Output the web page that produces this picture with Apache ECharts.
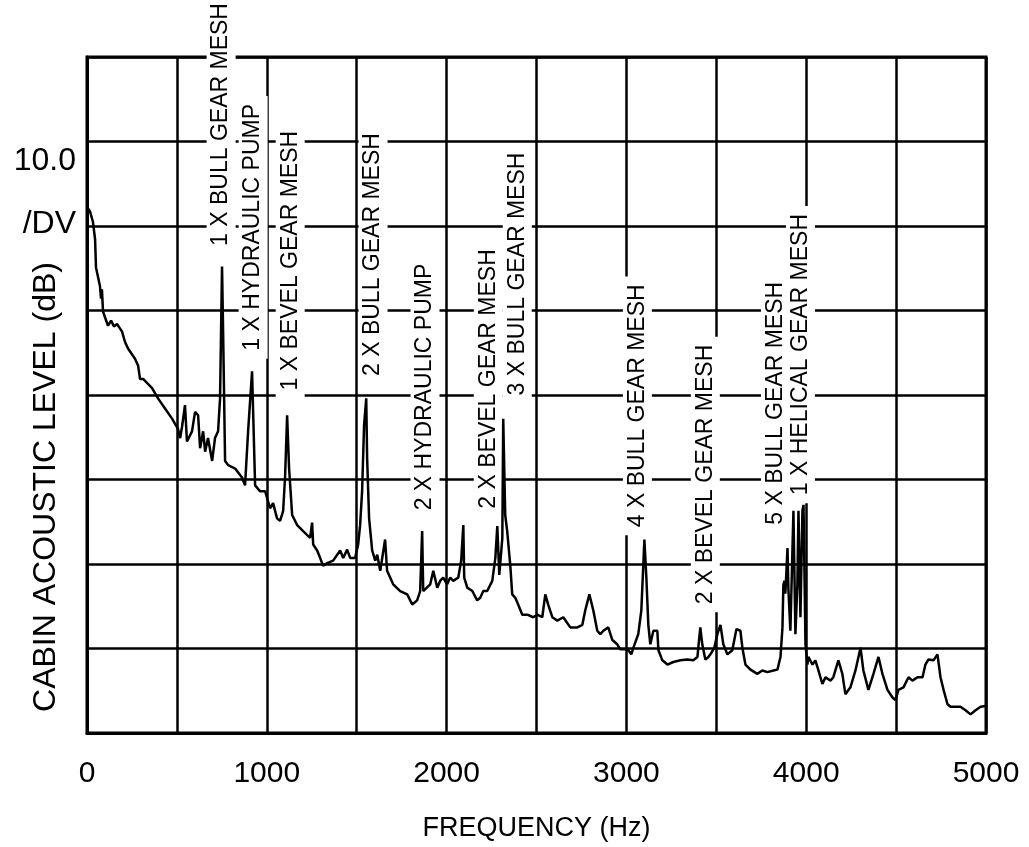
<!DOCTYPE html>
<html>
<head>
<meta charset="utf-8">
<script src="https://cdn.jsdelivr.net/npm/echarts@6/dist/echarts.min.js"></script>
<style>
  html, body { margin: 0; padding: 0; background: #fff; }
  #main { width: 1029px; height: 847px; }
</style>
</head>
<body>
<div id="main"></div>
<script>
// spectrum: frequency (Hz) and level (dB, 10 dB per division)
var freqHz = [0,17,33,45,50,61,72,78,83,89,100,117,134,150,167,195,211,228,267,284,295,312,362,395,434,473,506,518,529,545,556,584,601,618,629,646,657,673,696,712,729,740,751,757,768,785,824,863,879,896,918,935,963,991,
  1018,1035,1057,1074,1091,1102,1113,1124,1141,1169,1202,1241,1252,1258,1280,1297,1313,1336,1369,1408,1425,1447,1464,1491,1508,1519,1530,1541,1553,1558,1569,1586,1603,1614,1631,1658,1669,1686,1703,1742,1781,1809,1836,1853,1864,1870,1909,1926,1948,1964,1981,
  2003,2020,2037,2065,2081,2093,2098,2115,2143,2170,2187,2204,2226,2254,2271,2282,2293,2310,2315,2326,2337,2354,2365,2382,2398,2421,2449,2482,2504,2532,2549,2565,2588,2616,2649,2688,2727,2755,2771,2794,2816,2838,2855,2872,2899,2922,2949,2966,2994,
  3011,3027,3039,3066,3083,3094,3100,3111,3122,3133,3150,3172,3178,3200,3228,3261,3300,3339,3372,3395,3411,3422,3439,3456,3473,3489,3506,3523,3539,3562,3589,3612,3634,3645,3662,3690,3728,3756,3784,3818,3840,3857,3868,3873,3879,3884,3896,3901,3912,3929,3940,3951,3957,3968,3979,3985,3996,
  4007,4012,4035,4051,4068,4090,4107,4135,4151,4179,4201,4218,4246,4274,4302,4318,4346,4374,4402,4424,4452,4480,4496,4513,4541,4569,4591,4619,4647,4663,4680,4708,4730,4747,4764,4786,4803,4830,4858,4886,4914,4942,4970,4997];
var levelDb = [62.3,61.7,60.5,58.4,55.1,54.9,52.9,51.4,52.5,49.9,49.2,48.2,48.8,48.1,48.4,47.5,46.3,45.5,44.3,43.5,41.9,41.9,40.8,39.6,38.4,37.2,36.0,34.9,36.3,38.8,34.5,35.7,38.0,37.6,33.7,35.7,33.3,34.9,32.2,34.9,35.7,39.6,55.2,47.5,32.2,31.7,31.3,30.2,29.3,35.7,42.8,29.3,28.6,28.6,
  26.6,27.2,25.4,25.1,26.3,30.5,37.6,31.3,25.8,24.6,23.9,23.1,24.9,22.3,21.6,20.7,19.8,20.1,20.4,21.6,20.7,21.7,20.7,20.7,22.3,24.6,28.6,36.4,39.6,32.5,25.4,21.6,20.4,21.1,19.2,22.9,19.2,18.4,17.6,16.8,16.4,15.2,15.7,16.8,23.9,16.8,17.6,19.2,17.2,18.0,18.4,
  17.6,18.4,18.0,18.4,20.4,24.6,18.4,17.2,16.8,15.7,16.0,16.8,16.8,18.0,20.7,24.5,18.7,23.1,37.2,25.8,23.9,19.9,16.4,16.0,15.2,14.0,14.0,13.7,14.0,13.7,16.4,15.2,13.7,13.3,13.7,12.5,12.5,12.8,14.5,16.4,14.5,12.1,11.7,12.1,12.5,11.0,10.5,9.9,9.9,
  9.8,9.3,10.1,11.7,14.5,19.9,22.9,18.4,12.8,10.5,12.1,12.1,9.8,8.6,8.1,8.4,8.6,8.7,8.6,9.0,12.5,10.5,8.7,9.0,9.5,10.1,11.7,12.8,10.5,9.3,9.8,12.3,12.1,10.1,8.1,7.5,7.0,7.4,7.2,7.4,7.5,9.0,12.5,17.5,18.0,16.5,21.9,17.0,12.1,26.3,11.7,17.6,26.3,13.7,26.3,27.0,10.5,
  8.1,9.0,8.1,8.6,7.4,5.8,6.6,6.2,6.6,8.6,7.0,4.6,5.4,7.4,10.1,7.4,5.1,7.0,9.0,7.0,5.1,4.2,3.9,5.1,5.4,6.6,6.2,6.6,6.6,8.1,8.7,8.6,9.3,6.6,5.1,3.4,3.1,3.1,3.1,2.7,2.2,2.7,3.1,3.2];

// peak annotations: text starts at (labelFreq, labelLevel) and runs upward
var labelText = ['1 X BULL GEAR MESH','1 X HYDRAULIC PUMP','1 X BEVEL GEAR MESH','2 X BULL GEAR MESH','2 X HYDRAULIC PUMP','2 X BEVEL GEAR MESH','3 X BULL GEAR MESH','4 X BULL GEAR MESH','2 X BEVEL GEAR MESH','5 X BULL GEAR MESH','1 X HELICAL GEAR MESH'];
var labelFreq = [746, 924, 1130, 1591, 1880, 2232, 2393, 3061, 3439, 3829, 3968];
var labelLevel = [56.7, 44.3, 39.6, 41.3, 25.4, 25.6, 39.0, 23.4, 14.3, 23.7, 27.2];

var xTicks = [0, 1000, 2000, 3000, 4000, 5000];

var FONT = '"Liberation Sans", Arial, sans-serif';

var chart = echarts.init(document.getElementById('main'))

var spectrum = freqHz.map(function (f, i) { return [f, levelDb[i]] })
var labelData = labelFreq.map(function (f, i) { return [f, labelLevel[i], i] })

chart.setOption({
  backgroundColor: '#fff',
  animation: false,
  grid: {
    left: 87, right: 43, top: 57, bottom: 111,
    show: true, borderColor: '#000', borderWidth: 3
  },
  xAxis: {
    type: 'value',
    min: 0, max: 5000, interval: 500,
    axisLine: { show: true, lineStyle: { color: '#000', width: 3 } },
    axisTick: { show: false },
    splitLine: { show: true, lineStyle: { color: '#000', width: 2.5 } },
    axisLabel: {
      color: '#000', fontFamily: FONT, fontSize: 30, margin: 26,
      formatter: function (v) { return xTicks.indexOf(v) >= 0 ? String(v) : '' }
    },
    name: 'FREQUENCY (Hz)',
    nameLocation: 'middle',
    nameGap: 82,
    nameTextStyle: { color: '#000', fontFamily: FONT, fontSize: 27 }
  },
  yAxis: {
    type: 'value',
    min: 0, max: 80, interval: 10,
    axisLine: { show: true, lineStyle: { color: '#000', width: 3 } },
    axisTick: { show: false },
    axisLabel: { show: false },
    splitLine: { show: true, lineStyle: { color: '#000', width: 2.5 } }
  },
  graphic: [
    { type: 'text', x: 76, y: 161, style: { text: '10.0', font: '32px ' + FONT, fill: '#000', align: 'right', verticalAlign: 'middle' } },
    { type: 'text', x: 76, y: 224, style: { text: '/DV', font: '32px ' + FONT, fill: '#000', align: 'right', verticalAlign: 'middle' } },
    { type: 'text', x: 46, y: 487, rotation: Math.PI / 2, style: { text: 'CABIN ACOUSTIC LEVEL (dB)', font: '32px ' + FONT, fill: '#000', align: 'center', verticalAlign: 'middle' } }
  ],
  series: [
    {
      type: 'custom',
      z: 3,
      clip: false,
      data: labelData,
      renderItem: function (params, api) {
        var p = api.coord([api.value(0), api.value(1)])
        return {
          type: 'text',
          x: p[0], y: p[1],
          rotation: Math.PI / 2,
          style: {
            text: labelText[api.value(2)],
            font: '23px ' + FONT,
            fill: '#000',
            align: 'left',
            verticalAlign: 'middle',
            backgroundColor: '#fff',
            padding: [3, 8]
          }
        }
      }
    },
    {
      type: 'line',
      z: 4,
      data: spectrum,
      showSymbol: false,
      lineStyle: { color: '#000', width: 2.5 }
    }
  ]
})
</script>
</body>
</html>
